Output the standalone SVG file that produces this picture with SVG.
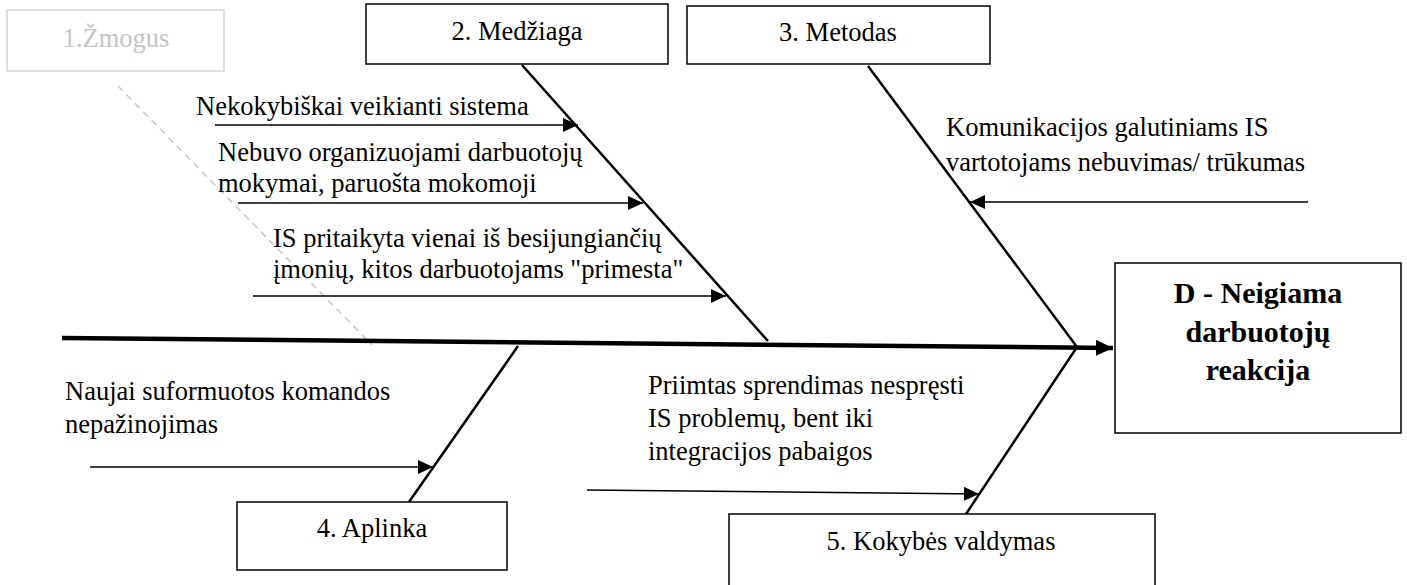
<svg xmlns="http://www.w3.org/2000/svg" width="1407" height="585" viewBox="0 0 1407 585">
  <style>
    .box { fill: #ffffff; stroke: #000000; stroke-width: 1.5; }
    .box-faint { fill: #ffffff; stroke: #d4d4d4; stroke-width: 1.5; }
    .title { font-family: "Liberation Serif", "Times New Roman", serif; font-size: 26.5px; fill: #000000; text-anchor: middle; }
    .title-faint { font-family: "Liberation Serif", "Times New Roman", serif; font-size: 26.5px; fill: #c4c4c4; text-anchor: middle; }
    .cause { font-family: "Liberation Serif", "Times New Roman", serif; font-size: 26.5px; fill: #000000; }
    .effect { font-family: "Liberation Serif", "Times New Roman", serif; font-size: 30px; font-weight: bold; fill: #000000; text-anchor: middle; }
    .bone { stroke: #000000; stroke-width: 2.5; fill: none; }
    .spine { stroke: #000000; stroke-width: 4.5; fill: none; }
    .cause-arrow { stroke: #000000; stroke-width: 1.5; fill: none; }
    .guide { stroke: #c8c8c8; stroke-width: 1.5; stroke-dasharray: 7 5; fill: none; }
  </style>
  <defs>
    <marker id="head-small" markerUnits="userSpaceOnUse" markerWidth="16" markerHeight="14" refX="15" refY="7" orient="auto">
      <path d="M0,0 L15,7 L0,14 Z" fill="#000000"/>
    </marker>
    <marker id="head-main" markerUnits="userSpaceOnUse" markerWidth="18" markerHeight="16" refX="17" refY="8" orient="auto">
      <path d="M0,0 L17,8 L0,16 Z" fill="#000000"/>
    </marker>
  </defs>

  <rect width="1407" height="585" fill="#ffffff"/>

  <!-- connectors: spine, category bones, cause arrows -->
  <g id="connectors">
    <line class="guide" x1="118" y1="86" x2="372" y2="345"/>
    <line class="spine" x1="62" y1="338" x2="1113" y2="348" marker-end="url(#head-main)"/>
    <line class="bone" x1="522" y1="65" x2="768" y2="341"/>
    <line class="bone" x1="868" y1="66" x2="1077" y2="347"/>
    <line class="bone" x1="409" y1="502" x2="518" y2="346"/>
    <line class="bone" x1="966" y1="514" x2="1077" y2="347"/>

    <line class="cause-arrow" x1="215" y1="125" x2="578" y2="125" marker-end="url(#head-small)"/>
    <line class="cause-arrow" x1="238" y1="203" x2="643" y2="203" marker-end="url(#head-small)"/>
    <line class="cause-arrow" x1="253" y1="296" x2="726" y2="296" marker-end="url(#head-small)"/>
    <line class="cause-arrow" x1="1308" y1="202" x2="970" y2="202" marker-end="url(#head-small)"/>
    <line class="cause-arrow" x1="90" y1="467" x2="433" y2="467" marker-end="url(#head-small)"/>
    <line class="cause-arrow" x1="587" y1="490" x2="979" y2="494" marker-end="url(#head-small)"/>
  </g>

  <g id="node-zmogus">
    <rect class="box-faint" x="7" y="10" width="217" height="61"/>
    <text class="title-faint" x="116" y="47">1.Žmogus</text>
  </g>

  <g id="node-medziaga">
    <rect class="box" x="366" y="4" width="302" height="60"/>
    <text class="title" x="517" y="40">2. Medžiaga</text>
  </g>

  <g id="node-metodas">
    <rect class="box" x="687" y="6" width="303" height="58"/>
    <text class="title" x="838" y="41">3. Metodas</text>
  </g>

  <g id="node-aplinka">
    <rect class="box" x="237" y="502" width="270" height="68"/>
    <text class="title" x="372" y="537">4. Aplinka</text>
  </g>

  <g id="node-kokybes-valdymas">
    <rect class="box" x="729" y="514" width="426" height="80"/>
    <text class="title" x="941" y="550">5. Kokybės valdymas</text>
  </g>

  <g id="node-effect">
    <rect class="box" x="1115" y="263" width="286" height="170"/>
    <text class="effect" x="1258" y="303">D - Neigiama</text>
    <text class="effect" x="1258" y="342">darbuotojų</text>
    <text class="effect" x="1258" y="380">reakcija</text>
  </g>

  <g id="cause-sistema">
    <text class="cause" x="196" y="115">Nekokybiškai veikianti sistema</text>
  </g>

  <g id="cause-mokymai">
    <text class="cause" x="218" y="161">Nebuvo organizuojami darbuotojų</text>
    <text class="cause" x="218" y="192">mokymai, paruošta mokomoji</text>
  </g>

  <g id="cause-pritaikyta">
    <text class="cause" x="273" y="247">IS pritaikyta vienai iš besijungiančių</text>
    <text class="cause" x="273" y="278">įmonių, kitos darbuotojams "primesta"</text>
  </g>

  <g id="cause-komunikacija">
    <text class="cause" x="946" y="136">Komunikacijos galutiniams IS</text>
    <text class="cause" x="946" y="171">vartotojams nebuvimas/ trūkumas</text>
  </g>

  <g id="cause-komanda">
    <text class="cause" x="65" y="400">Naujai suformuotos komandos</text>
    <text class="cause" x="65" y="433">nepažinojimas</text>
  </g>

  <g id="cause-sprendimas">
    <text class="cause" x="648" y="394">Priimtas sprendimas nespręsti</text>
    <text class="cause" x="648" y="427">IS problemų, bent iki</text>
    <text class="cause" x="648" y="460">integracijos pabaigos</text>
  </g>
</svg>
